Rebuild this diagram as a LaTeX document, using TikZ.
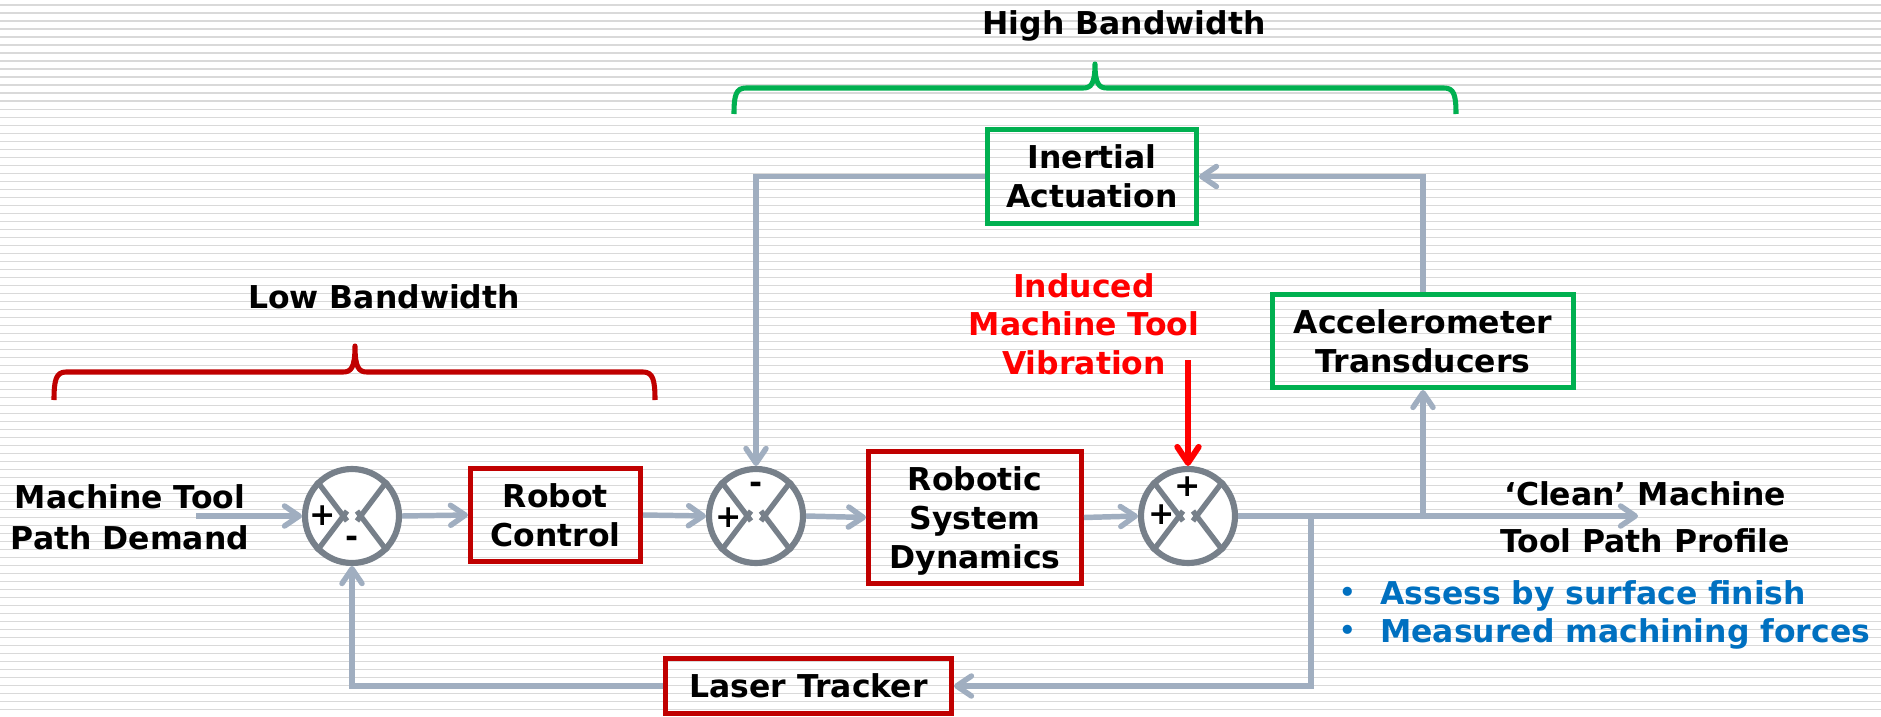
\documentclass[tikz,border=0pt]{standalone}
\usepackage{fontspec}
\setmainfont{DejaVu Sans}
\usetikzlibrary{arrows.meta,calc}

\definecolor{stripe}{RGB}{217,217,217}
\definecolor{flowgray}{RGB}{160,174,192}
\definecolor{sumgray}{RGB}{119,128,138}
\definecolor{boxred}{RGB}{192,0,0}
\definecolor{boxgreen}{RGB}{0,176,80}
\definecolor{vibred}{RGB}{255,0,0}
\definecolor{noteblue}{RGB}{0,112,192}

\begin{document}
\begin{tikzpicture}[x=0.75pt,y=-0.75pt,
  txt/.style={font=\fontsize{23.6}{29}\selectfont\bfseries, align=center, inner sep=0pt},
  redbox/.style={txt, draw=boxred, line width=3.75pt, rectangle},
  greenbox/.style={txt, draw=boxgreen, line width=3.75pt, rectangle},
  sumj/.style={circle, draw=sumgray, fill=white, line width=4.6pt, minimum size=70.5pt, inner sep=0pt},
  xline/.style={draw=sumgray, line width=4pt, line cap=butt},
  sign/.style={font=\fontsize{23.6}{29}\selectfont\bfseries, inner sep=0pt},
  flow/.style={draw=flowgray, line width=4.1pt,
    -{Straight Barb[length=11pt,width=15pt,line cap=round,line join=round]}},
  vibarrow/.style={draw=vibred, line width=4.5pt,
    -{Straight Barb[length=12pt,width=16pt,line cap=round,line join=round]}},
  gbrace/.style={draw=boxgreen, line width=3.8pt, line join=round},
  rbrace/.style={draw=boxred, line width=3.8pt, line join=round},
]
\useasboundingbox (0,0) rectangle (1881,717);

% ruled background
\fill[white] (0,0) rectangle (1881,717);
\foreach \i in {0,...,89}
  \fill[stripe] (0,{4.5+8*\i}) rectangle (1881,{6.3+8*\i});

% bandwidth braces and titles
\node[txt] (hbw) at (1124,26) {High Bandwidth};
\draw[gbrace] (734,114) .. controls (734,95) and (736,88) .. (746,88) -- (1083,88)
  .. controls (1091,88) and (1095,84) .. (1095,64)
  .. controls (1095,84) and (1099,88) .. (1107,88) -- (1444,88)
  .. controls (1454,88) and (1456,95) .. (1456,114);

\node[txt] (lbw) at (384,297) {Low Bandwidth};
\draw[rbrace] (54,400) .. controls (54,380) and (56,372) .. (66,372) -- (343,372)
  .. controls (351,372) and (355,368) .. (355,346)
  .. controls (355,368) and (359,372) .. (367,372) -- (643,372)
  .. controls (653,372) and (655,380) .. (655,400);

% blocks
\node[redbox, minimum width=127.5pt, minimum height=69.75pt] (rc) at (555.5,515) {Robot\\Control};
\node[redbox, minimum width=159.75pt, minimum height=99pt] (rsd) at (975,517.5)
  {\raisebox{-2.5pt}[\height][\depth]{\parbox{150pt}{\centering Robotic\\System\\Dynamics}}};
\node[greenbox, minimum width=156.75pt, minimum height=70.5pt] (ia) at (1092,176.5) {Inertial\\Actuation};
\node[greenbox, minimum width=225.75pt, minimum height=69.75pt] (acc) at (1423,341) {Accelerometer\\Transducers};
\node[redbox, minimum width=214.5pt, minimum height=41.25pt] (lt) at (808.5,686) {Laser Tracker};

% summing junctions
\node[sumj] (s1) at (352,516) {};
\node[sumj] (s2) at (756,516) {};
\node[sumj] (s3) at (1188,516) {};
\foreach \s in {s1,s2,s3}
  \foreach \a in {45,135,225,315}
    \draw[xline] ($(\s.center)+(\a:7)$) -- (\s.\a);

\node[sign] (s1a) at (323,516) {+};
\node[sign] (s1b) at (352,542) {-};
\node[sign] (s2a) at (756,488) {-};
\node[sign] (s2b) at (729,518) {+};
\node[sign] (s3a) at (1188,487) {+};
\node[sign] (s3b) at (1162,515) {+};

% input / output labels
\node[txt, font=\fontsize{23.6}{30.75}\selectfont\bfseries] (dem) at (130,517) {Machine Tool\\Path Demand};
\node[txt, font=\fontsize{23.6}{35}\selectfont\bfseries] (cln) at (1645,517) {‘Clean’ Machine\\Tool Path Profile};
\node[txt, text=vibred] (vib) at (1084,324) {Induced\\Machine Tool\\Vibration};

\node[txt, text=noteblue, font=\fontsize{23.6}{29}\selectfont, anchor=base] (b1dot) at (1348,603) {•};
\node[txt, text=noteblue, anchor=base west] (b1) at (1380,604) {Assess by surface finish};
\node[txt, text=noteblue, font=\fontsize{23.6}{29}\selectfont, anchor=base] (b2dot) at (1348,641) {•};
\node[txt, text=noteblue, anchor=base west] (b2) at (1380,642) {Measured machining forces};

% signal flow
\coordinate (inp) at (196,516);
\coordinate (outp) at (1638,516);
\coordinate (tapA) at (1423,516);
\coordinate (tapL) at (1311,516);
\coordinate (vibtop) at (1188,360);

\draw[flow] (inp) -- (s1.west);
\draw[flow] (s1.east) -- (rc.west);
\draw[flow] (rc.east) -- (s2.west);
\draw[flow] (s2.east) -- (rsd.west);
\draw[flow] (rsd.east) -- (s3.west);
\draw[flow] (s3.east) -- (outp);
\draw[flow] (tapA) -- (acc.south);
\draw[flow] (acc.north) |- (ia.east);
\draw[flow] (ia.west) -| (s2.north);
\draw[flow] (tapL) |- (lt.east);
\draw[flow] (lt.west) -| (s1.south);
\draw[vibarrow] (vibtop) -- (s3.north);
\end{tikzpicture}
\end{document}
